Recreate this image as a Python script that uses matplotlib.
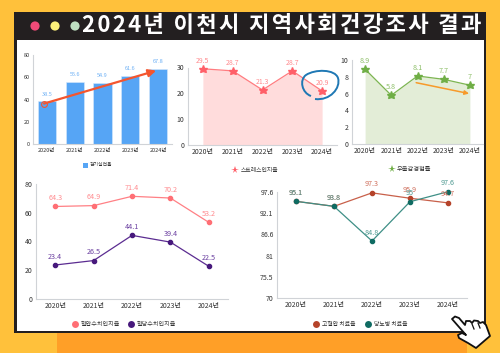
#!/usr/bin/env python3
import matplotlib
matplotlib.use('Agg')
import matplotlib.pyplot as plt
from matplotlib.patches import Rectangle, Circle, PathPatch
from matplotlib.path import Path

plt.rcParams['font.family'] = ['Noto Sans CJK KR', 'DejaVu Sans']

W, H = 500, 353

# ---- data ----
title = '2024년 이천시 지역사회건강조사 결과'
years = ['2020년', '2021년', '2022년', '2023년', '2024년']
exercise = [38.5, 55.6, 54.9, 61.6, 67.8]
exercise_trend = [36.6, 66.0]
stress = [29.5, 28.7, 21.3, 28.7, 20.9]
depress = [8.9, 5.8, 8.1, 7.7, 7.0]
depress_labels = ['8.9', '5.8', '8.1', '7.7', '7']
depress_trend = [7.3, 6.0]
bp_aware = [64.3, 64.9, 71.4, 70.2, 53.2]
sugar_aware = [23.4, 26.5, 44.1, 39.4, 22.5]
bp_treat = [95.1, 93.8, 97.3, 95.9, 94.7]
sugar_treat = [95.1, 93.8, 84.8, 95.0, 97.6]
treat_ticks = [70, 75.5, 81, 86.6, 92.1, 97.6]
treat_ticklabels = ['70', '75.5', '81', '86.6', '92.1', '97.6']
xpos = list(range(len(years)))

INK = '#333333'
AXIS = '#d0d3d7'


def make_axes(left, right, top, bottom):
    # pixel box to figure fraction
    return fig.add_axes([left / W, 1 - bottom / H, (right - left) / W, (bottom - top) / H])


def style_axes(ax, ylim, yticks, size, ticklabels=None):
    ax.set_facecolor('none')
    ax.set_xlim(-0.5, 4.5)
    ax.set_ylim(*ylim)
    ax.set_xticks(xpos, years)
    ax.set_yticks(yticks, ticklabels if ticklabels else [str(t) for t in yticks])
    ax.tick_params(length=0, labelsize=size, labelcolor=INK, pad=2.5)
    for s in ['top', 'right']:
        ax.spines[s].set_visible(False)
    for s in ['left', 'bottom']:
        ax.spines[s].set_color(AXIS)
        ax.spines[s].set_linewidth(0.8)


def value_labels(ax, xs, ys, labels, color, size, offset):
    for x, y, lab in zip(xs, ys, labels):
        ax.annotate(lab, (x, y), xytext=(0, offset), textcoords='offset points',
                    ha='center', va='bottom', fontsize=size, color=color)


def legend(x_px, y_px, marker, color, ms, label, size):
    # legend swatch + text in page pixels
    top.plot([x_px], [y_px], marker=marker, color=color, ms=ms, mew=0, ls='none')
    top.text(x_px + 5.5, y_px, label, fontsize=size, color=INK, va='center', ha='left')


fig = plt.figure(figsize=(W / 100, H / 100), dpi=100, facecolor='#FFC13B')

# ---- page decoration, drawn in pixel coordinates ----
page = fig.add_axes([0, 0, 1, 1])
page.set_xlim(0, W)
page.set_ylim(H, 0)
page.axis('off')
page.add_patch(Rectangle((57, 333), 410, 20, fc='#FF9F27', ec='none'))
page.add_patch(Rectangle((14, 12), 472, 321, fc='#231F20', ec='none'))
page.add_patch(Rectangle((16.5, 39.5), 467.5, 291.5, fc='white', ec='none'))
for cx, col in zip([35, 55, 75], ['#F04A78', '#FBF07A', '#BFE0C2']):
    page.add_patch(Circle((cx, 26), 4.6, fc=col, ec='none'))
# hair spaces stand in for the wide letter spacing of the title
page.text(82, 26, '\u200a'.join(title), fontsize=16, fontweight='bold',
          color='white', va='center', ha='left')

# ---- chart 1: bars ----
ax = make_axes(33, 172, 55, 144.5)
style_axes(ax, (0, 80), [0, 20, 40, 60, 80], 4.0)
ax.bar(xpos, exercise, width=0.66, color='#56A5F5', edgecolor='#d8e9fb', linewidth=0.4)
value_labels(ax, xpos, exercise, [f'{v:g}' for v in exercise], '#6DB0F5', 4.0, 3.5)
ax.annotate('', xy=(3.93, exercise_trend[1]), xytext=(-0.1, exercise_trend[0]),
            arrowprops=dict(arrowstyle='-|>,head_width=0.22,head_length=0.45',
                            color='#F4552E', lw=1.6, shrinkA=0, shrinkB=0))
ax.plot([-0.1], [exercise_trend[0]], 'o', mfc='none', mec='#F4552E', ms=4.2, mew=0.8)

# ---- chart 2: stress ----
ax = make_axes(188, 337, 67.5, 145)
style_axes(ax, (0, 30), [0, 10, 20, 30], 5.0)
ax.fill_between(xpos, 0, stress, color='#FFDCDC', lw=0)
ax.plot(xpos, stress, color='#FF7C80', lw=0.9, marker='*', ms=6.2, mfc='#FF5F68', mec='#FF5F68', clip_on=False)
value_labels(ax, xpos, stress, [f'{v:g}' for v in stress], '#FF8A8E', 5.0, 3.0)

# ---- chart 3: depression ----
ax = make_axes(352, 483, 60, 144)
style_axes(ax, (0, 10), [0, 2, 4, 6, 8, 10], 5.0)
ax.fill_between(xpos, 0, depress, color='#E3EDD7', lw=0)
ax.plot(xpos, depress, color='#7DB552', lw=0.9, marker='*', ms=6.2, mfc='#6FAE45', mec='#6FAE45', clip_on=False)
value_labels(ax, xpos, depress, depress_labels, '#8DBF68', 5.2, 3.0)
ax.annotate('', xy=(3.97, depress_trend[1]), xytext=(1.95, depress_trend[0]),
            arrowprops=dict(arrowstyle='-|>,head_width=0.12,head_length=0.25',
                            color='#F79A2A', lw=1.1, shrinkA=0, shrinkB=0))

# ---- chart 4: awareness ----
ax = make_axes(36, 228, 184, 298.5)
style_axes(ax, (0, 80), [0, 20, 40, 60, 80], 5.0)
ax.plot(xpos, bp_aware, color='#FF8085', lw=0.9, marker='o', ms=3.0, mfc='#FF6F75', mec='#FF6F75')
ax.plot(xpos, sugar_aware, color='#5B2C91', lw=0.9, marker='o', ms=3.0, mfc='#47197C', mec='#47197C')
value_labels(ax, xpos, bp_aware, [f'{v:g}' for v in bp_aware], '#FF8A8E', 5.2, 3.2)
value_labels(ax, xpos, sugar_aware, [f'{v:g}' for v in sugar_aware], '#6A3FA0', 5.2, 3.2)

# ---- chart 5: treatment ----
ax = make_axes(277, 467, 191.7, 298)
style_axes(ax, (70, 97.6), treat_ticks, 5.0, treat_ticklabels)
ax.plot(xpos, bp_treat, color='#C8604A', lw=0.9, marker='o', ms=3, mfc='#B5432A', mec='#B5432A', clip_on=False)
ax.plot(xpos, sugar_treat, color='#3E8F86', lw=0.9, marker='o', ms=3, mfc='#0F6B62', mec='#0F6B62', clip_on=False)
value_labels(ax, xpos, bp_treat, [f'{v:g}' for v in bp_treat], '#CF6F5C', 5.2, 3.2)
value_labels(ax, xpos, sugar_treat, [f'{v:g}' for v in sugar_treat], '#4F9A92', 5.2, 3.2)

# ---- legends and overlays, on top of everything in page pixels ----
top = fig.add_axes([0, 0, 1, 1], facecolor='none')
top.set_xlim(0, W)
top.set_ylim(H, 0)
top.axis('off')
legend(84.7, 165, 's', '#56A5F5', 3.6, '걷기실천율', 3.5)
legend(235, 170, '*', '#FF5F68', 5.5, '스트레스인지율', 4.2)
legend(391.7, 169, '*', '#6FAE45', 5.5, '우울감경험률', 4.5)
legend(75, 324, 'o', '#FF6F75', 5.0, '혈압수치인지율', 4.4)
legend(131, 324, 'o', '#47197C', 5.0, '혈당수치인지율', 4.4)
legend(316, 324, 'o', '#B5432A', 5.0, '고혈압 치료율', 4.2)
legend(368, 324, 'o', '#0F6B62', 5.0, '당뇨병 치료율', 4.2)

# hand drawn circle around the last stress point
loop = Path([(315, 99), (330, 101), (341, 88), (338, 78), (335, 69), (315, 69), (306, 75),
             (299, 80), (302, 93), (311, 96)],
            [Path.MOVETO, Path.CURVE4, Path.CURVE4, Path.CURVE4, Path.CURVE4, Path.CURVE4,
             Path.CURVE4, Path.CURVE4, Path.CURVE4, Path.CURVE4])
top.add_patch(PathPatch(loop, fc='none', ec='#1F78B4', lw=1.4))

# pointing hand cursor
hand = [(452, 319), (455, 316.5), (459, 318), (465, 325), (466, 321), (470, 321), (472, 323),
        (474, 320.5), (478, 321), (480, 323), (483, 322), (486, 325), (490, 336), (476, 348),
        (468, 343), (459, 338), (458, 335), (462, 333), (466, 335), (459, 327)]
top.fill(*zip(*hand), fc='white', ec='#111111', lw=1.3, joinstyle='round', clip_on=False)
for seg in [((472, 324), (474, 329)), ((478, 323), (480, 328))]:
    top.plot(*zip(*seg), color='#111111', lw=0.9)

fig.savefig('out.png', dpi=100)
